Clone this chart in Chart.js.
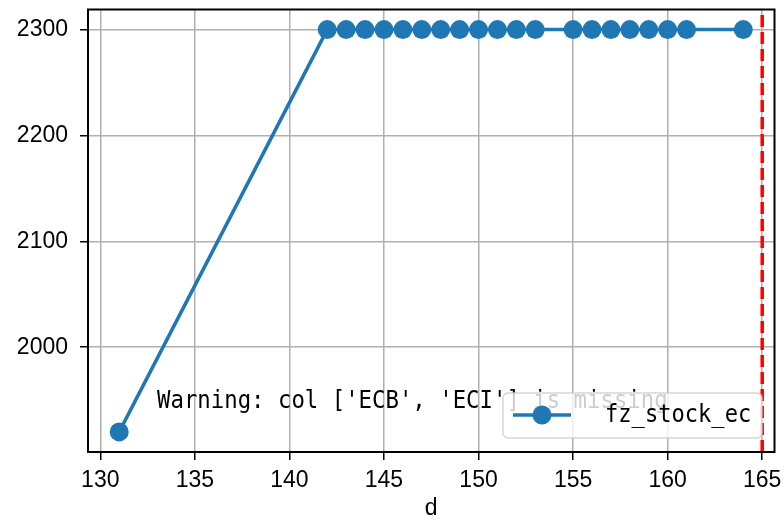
<!DOCTYPE html>
<html>
<head>
<meta charset="utf-8">
<script src="https://cdn.jsdelivr.net/npm/chart.js@4/dist/chart.umd.min.js"></script>
<style>
  html, body { margin: 0; padding: 0; background: #fff; }
  #wrap { width: 784px; height: 522px; position: relative; }
</style>
</head>
<body>
<div id="wrap"><canvas id="c" width="784" height="522"></canvas></div>
<script>
// ---- data ----
const dValues = [131, 142, 143, 144, 145, 146, 147, 148, 149, 150, 151, 152, 153,
                 155, 156, 157, 158, 159, 160, 161, 164];
const stockValues = [1920, 2300, 2300, 2300, 2300, 2300, 2300, 2300, 2300, 2300, 2300, 2300, 2300,
                     2300, 2300, 2300, 2300, 2300, 2300, 2300, 2300];
const seriesName = 'fz_stock_ec';
const markerLineX = 165;
const xTickLabels = [130, 135, 140, 145, 150, 155, 160, 165];
const yTickLabels = [2000, 2100, 2200, 2300];
const xRange = [129.35, 165.65];
const yRange = [1901, 2319];
const warningText = "Warning: col ['ECB', 'ECI'] is missing";
const xTitle = 'd';

const blue = '#1f77b4';
const points = dValues.map((d, i) => ({ x: d, y: stockValues[i] }));

const overlay = {
  id: 'overlay',
  afterDatasetsDraw(chart) {
    const ctx = chart.ctx;
    const ca = chart.chartArea;
    // warning text
    ctx.save();
    ctx.fillStyle = '#000';
    ctx.font = '24px "DejaVu Sans Mono"';
    ctx.textBaseline = 'alphabetic';
    ctx.translate(157, 408);
    ctx.scale(0.93, 1);
    ctx.fillText(warningText, 0, 0);
    ctx.restore();

    // legend
    const lx = 503, ly = 393, lw = 259, lh = 45;
    ctx.save();
    ctx.fillStyle = 'rgba(255,255,255,0.8)';
    ctx.strokeStyle = 'rgba(204,204,204,0.8)';
    ctx.lineWidth = 1.5;
    ctx.beginPath();
    ctx.roundRect(lx, ly, lw, lh, 5);
    ctx.fill();
    ctx.stroke();
    ctx.strokeStyle = blue;
    ctx.lineWidth = 3.5;
    ctx.beginPath();
    ctx.moveTo(513, 415);
    ctx.lineTo(571, 415);
    ctx.stroke();
    ctx.fillStyle = blue;
    ctx.beginPath();
    ctx.arc(542, 415, 9.5, 0, Math.PI * 2);
    ctx.fill();
    ctx.fillStyle = '#000';
    ctx.font = '24px "DejaVu Sans Mono"';
    ctx.textBaseline = 'middle';
    ctx.translate(605, 416);
    ctx.scale(0.92, 1);
    ctx.fillText(seriesName, 0, 0);
    ctx.restore();

    // axes box
    ctx.save();
    ctx.strokeStyle = '#000';
    ctx.lineWidth = 2;
    ctx.strokeRect(ca.left, ca.top, ca.right - ca.left, ca.bottom - ca.top);
    ctx.restore();
  }
};

new Chart(document.getElementById('c'), {
  type: 'scatter',
  data: {
    datasets: [
      {
        label: seriesName,
        data: points,
        showLine: true,
        borderColor: blue,
        backgroundColor: blue,
        borderWidth: 3.5,
        pointRadius: 9.5,
        pointBorderWidth: 0,
        pointBackgroundColor: blue,
        order: 2
      },
      {
        label: 'vline',
        data: [{ x: markerLineX, y: yRange[0] }, { x: markerLineX, y: yRange[1] }],
        showLine: true,
        borderColor: '#ff0000',
        borderWidth: 3.5,
        borderDash: [12, 5],
        pointRadius: 0,
        order: 1
      }
    ]
  },
  options: {
    responsive: false,
    animation: false,
    devicePixelRatio: 1,
    layout: { padding: { left: 0, right: 7, top: 7, bottom: 0 } },
    plugins: { legend: { display: false }, tooltip: { enabled: false } },
    scales: {
      x: {
        type: 'linear',
        min: xRange[0], max: xRange[1],
        afterBuildTicks(s) { s.ticks = xTickLabels.map(v => ({ value: v })); },
        afterFit(s) { s.height = 70; s.paddingLeft = 0; s.paddingRight = 0; },
        grid: { color: '#b0b0b0', lineWidth: 1.5, tickColor: '#000', tickLength: 8, tickWidth: 1.5 },
        border: { display: false },
        ticks: { color: '#000', font: { family: 'Liberation Sans', size: 23 }, padding: 7, maxRotation: 0,
                 callback: v => String(v) },
        title: { display: true, text: xTitle, color: '#000', font: { family: 'Liberation Sans', size: 23 }, padding: { top: 6, bottom: 0 } }
      },
      y: {
        type: 'linear',
        min: yRange[0], max: yRange[1],
        afterBuildTicks(s) { s.ticks = yTickLabels.map(v => ({ value: v })); },
        afterFit(s) { s.width = 88; s.paddingTop = 0; s.paddingBottom = 0; },
        grid: { color: '#b0b0b0', lineWidth: 1.5, tickColor: '#000', tickLength: 8, tickWidth: 1.5 },
        border: { display: false },
        ticks: { color: '#000', font: { family: 'Liberation Sans', size: 23 }, padding: 12,
                 callback: v => String(v) }
      }
    }
  },
  plugins: [overlay]
});
</script>
</body>
</html>
